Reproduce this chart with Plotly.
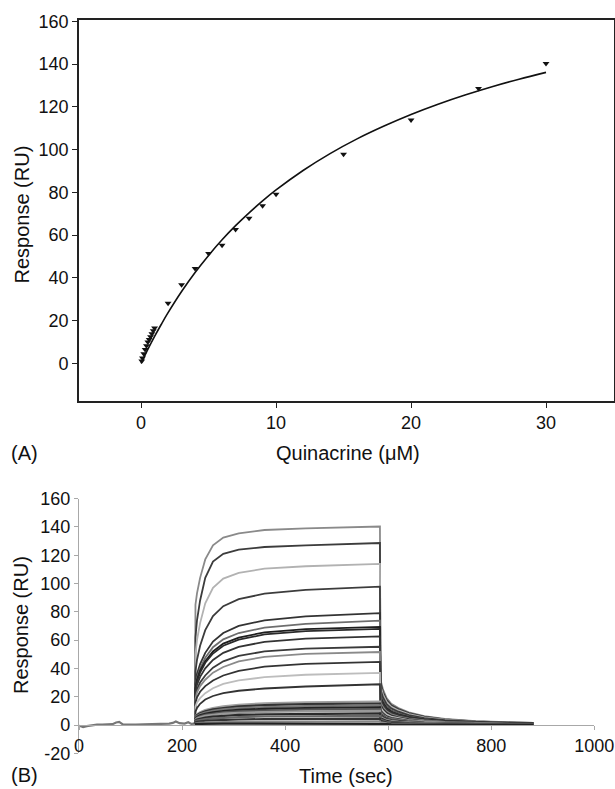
import plotly.graph_objects as go

# ---------------- Panel A data ----------------
QUIN_CONC = [0.05, 0.1, 0.2, 0.3, 0.4, 0.5, 0.6, 0.7, 0.8, 0.9, 1.0,
             2, 3, 4, 5, 6, 7, 8, 9, 10, 15, 20, 25, 30]
QUIN_RESP = [1.1, 2.5, 4.5, 6.5, 8.2, 10.0, 11.2, 12.4, 13.8, 15.2, 16.6,
             28.1, 36.8, 44.4, 51.4, 55.3, 62.6, 67.9, 73.7, 79.1, 97.8, 113.8, 128.6, 140.3]
FIT_CONC = [0, 0.25, 0.5, 1, 1.5, 2, 3, 4, 5, 6, 7, 8, 9, 10, 12, 14, 16, 18, 20, 22, 24, 26, 28, 30]
FIT_RESP = [0, 3.3, 6.5, 12.6, 18.3, 23.7, 33.6, 42.5, 50.5, 57.8, 64.4, 70.4, 76.0, 81.1,
            90.2, 98.1, 105.0, 111.0, 116.4, 121.2, 125.5, 129.4, 132.9, 136.1]
A_XTICKS = [0, 10, 20, 30]
A_YTICKS = [0, 20, 40, 60, 80, 100, 120, 140, 160]

# ---------------- Panel B data ----------------
BASE_T = [0, 8, 15, 25, 35, 45, 55, 65, 72, 78, 85, 95, 110, 125, 140, 155, 165,
          175, 182, 188, 195, 205, 212, 218, 225]
BASE_R = [-0.5, -1.5, -0.8, 0.0, 0.3, 0.2, 0.5, 0.6, 1.8, 2.2, 0.4, 0.2, 0.3, 0.5, 0.6,
          0.8, 1.2, 1.0, 1.5, 2.5, 1.3, 1.0, 2.0, 0.8, 1.0]

SENS_T = [225, 226, 229, 235, 245, 260, 280, 310, 360, 440, 584,
          585, 590, 597, 606, 620, 640, 670, 710, 770, 830, 882]

S140 = [1.0, 85, 93, 104, 117, 127, 132.5, 135.5, 137.8, 139, 140.3, 32, 25, 19, 15, 12, 9, 6.3, 4.3, 2.8, 2.0, 1.5]
S129 = [1.0, 62, 74, 88, 104, 115.5, 121, 124, 125.8, 127, 128.6, 29.8, 23.3, 17.7, 14.0, 11.2, 8.4, 5.9, 4.0, 2.6, 1.9, 1.4]
S114 = [1.0, 50, 60, 72, 86, 97, 103.5, 107.5, 110.5, 112.2, 113.8, 27.5, 21.5, 16.3, 12.9, 10.3, 7.7, 5.4, 3.7, 2.4, 1.7, 1.3]
S98 = [1.0, 38, 46, 56, 67, 77, 84, 89, 92.8, 95.5, 97.8, 25.0, 19.5, 14.8, 11.7, 9.4, 7.0, 4.9, 3.4, 2.2, 1.6, 1.2]
S79 = [1.0, 29, 36, 43, 51, 59, 65, 70, 74, 76.8, 79.1, 21.8, 17.0, 12.9, 10.2, 8.2, 6.1, 4.3, 2.9, 1.9, 1.4, 1.0]
S74 = [1.0, 27, 33, 40, 47.5, 55, 60.5, 65, 68.8, 71.5, 73.7, 20.8, 16.3, 12.4, 9.8, 7.8, 5.9, 4.1, 2.8, 1.8, 1.3, 1.0]
S69 = [1.0, 26, 32, 38.5, 45, 52, 57.5, 61.8, 65.5, 67.8, 69.3, 19.8, 15.5, 11.8, 9.3, 7.4, 5.6, 3.9, 2.7, 1.7, 1.2, 0.9]
S68 = [1.0, 25, 31, 37, 44, 50.5, 56, 60.3, 64, 66.3, 67.9, 19.5, 15.3, 11.6, 9.2, 7.3, 5.5, 3.8, 2.6, 1.7, 1.2, 0.9]
S63 = [1.0, 23, 28.5, 34, 40, 46, 51, 55.2, 58.8, 61, 62.6, 18.6, 14.5, 11.0, 8.7, 7.0, 5.2, 3.7, 2.5, 1.6, 1.2, 0.9]
S55 = [1.0, 20, 25, 30, 35, 40.5, 45, 48.8, 52, 54, 55.3, 17.0, 13.3, 10.1, 8.0, 6.4, 4.8, 3.3, 2.3, 1.5, 1.1, 0.8]
S52 = [1.0, 18.5, 23, 27.5, 32, 37, 41, 45, 48.2, 50.2, 51.6, 16.0, 12.5, 9.5, 7.5, 6.0, 4.5, 3.2, 2.2, 1.4, 1.0, 0.8]
S45 = [1.0, 16, 19.5, 23.5, 27.5, 31.5, 35, 38.3, 41.2, 43.2, 44.6, 14.4, 11.3, 8.6, 6.8, 5.4, 4.1, 2.8, 1.9, 1.3, 0.9, 0.7]
S37 = [1.0, 13, 16, 19, 22.5, 26, 29, 31.5, 33.8, 35.5, 36.8, 12.5, 9.8, 7.4, 5.9, 4.7, 3.5, 2.5, 1.7, 1.1, 0.8, 0.6]
S29 = [1.0, 9.5, 12, 15, 18, 20.5, 22.5, 24.2, 25.8, 27.2, 28.8, 10.6, 8.3, 6.3, 5.0, 4.0, 3.0, 2.1, 1.4, 0.9, 0.7, 0.5]
L17 = [1.0, 6, 7.5, 9, 10.5, 12, 13.2, 14.3, 15.3, 16, 16.6, 9.0, 7.0, 5.3, 4.2, 3.4, 2.5, 1.8, 1.2, 0.8, 0.6, 0.4]
L15 = [1.0, 5.5, 7, 8.3, 9.7, 11, 12, 13.1, 14, 14.7, 15.2, 8.3, 6.5, 4.9, 3.9, 3.1, 2.3, 1.6, 1.1, 0.7, 0.5, 0.4]
L14 = [1.0, 5, 6.3, 7.6, 8.8, 10, 11, 11.9, 12.7, 13.3, 13.8, 7.7, 6.0, 4.6, 3.6, 2.9, 2.2, 1.5, 1.0, 0.7, 0.5, 0.4]
L12 = [1.0, 4.5, 5.7, 6.8, 7.9, 9, 9.9, 10.7, 11.4, 12, 12.4, 7.0, 5.5, 4.2, 3.3, 2.6, 2.0, 1.4, 0.9, 0.6, 0.4, 0.3]
L11 = [1.0, 4, 5.1, 6.1, 7.1, 8.1, 8.9, 9.7, 10.3, 10.8, 11.2, 6.4, 5.0, 3.8, 3.0, 2.4, 1.8, 1.3, 0.9, 0.6, 0.4, 0.3]
L10 = [1.0, 3.6, 4.6, 5.5, 6.4, 7.2, 8, 8.6, 9.2, 9.6, 10, 5.8, 4.5, 3.4, 2.7, 2.2, 1.6, 1.1, 0.8, 0.5, 0.4, 0.3]
L8 = [1.0, 3, 3.8, 4.5, 5.2, 5.9, 6.5, 7.1, 7.5, 7.9, 8.2, 4.8, 3.8, 2.9, 2.3, 1.8, 1.4, 0.9, 0.6, 0.4, 0.3, 0.2]
L6 = [1.0, 2.5, 3.1, 3.6, 4.2, 4.7, 5.2, 5.6, 6, 6.3, 6.5, 3.8, 3.0, 2.3, 1.8, 1.4, 1.1, 0.8, 0.5, 0.3, 0.2, 0.2]
L4 = [1.0, 1.8, 2.2, 2.6, 3, 3.3, 3.6, 3.9, 4.2, 4.4, 4.5, 2.9, 2.3, 1.7, 1.4, 1.1, 0.8, 0.6, 0.4, 0.3, 0.2, 0.1]
L2 = [1.0, 1.2, 1.4, 1.6, 1.8, 1.9, 2.1, 2.2, 2.3, 2.4, 2.5, 1.9, 1.5, 1.1, 0.9, 0.7, 0.5, 0.4, 0.3, 0.2, 0.1, 0.1]
L1 = [0.8, 0.7, 0.8, 0.8, 0.9, 0.9, 1.0, 1.0, 1.0, 1.1, 1.1, 1.1, 0.9, 0.7, 0.5, 0.4, 0.3, 0.2, 0.2, 0.1, 0.1, 0.1]

SENSORGRAMS = [S140, S129, S114, S98, S79, S74, S69, S68, S63, S55, S52, S45, S37, S29,
               L17, L15, L14, L12, L11, L10, L8, L6, L4, L2, L1]
SENS_COLORS = ["#8a8a8a", "#3c3c3c", "#b2b2b2", "#3c3c3c", "#333333", "#6e6e6e", "#1e1e1e",
               "#2a2a2a", "#333333", "#3a3a3a", "#8a8a8a", "#333333", "#bdbdbd", "#333333",
               "#a0a0a0", "#333333", "#777777", "#222222", "#555555", "#999999", "#2a2a2a",
               "#666666", "#333333", "#888888", "#222222"]
SENS_WIDTHS = [1.8] * 14 + [2.2] * 11
B_XTICKS = [0, 200, 400, 600, 800, 1000]
B_YTICKS = [-20, 0, 20, 40, 60, 80, 100, 120, 140, 160]
B_YTICKTEXT = ["-20", "0", "20", "40", "60", "80", "100", "120", "140", "160"]

# ---------------- Figure ----------------
W, H = 615, 789
FONT = "Liberation Sans, Arial, Helvetica, sans-serif"

def px_x(p):
    return p / W

def px_y(p):
    return 1 - p / H

fig = go.Figure()

fig.add_trace(go.Scatter(x=FIT_CONC, y=FIT_RESP, mode="lines",
                         line=dict(color="#111111", width=1.6, shape="spline"),
                         xaxis="x", yaxis="y", showlegend=False, hoverinfo="skip"))
fig.add_trace(go.Scatter(x=QUIN_CONC, y=QUIN_RESP, mode="markers",
                         marker=dict(symbol="triangle-down", size=6, color="#111111"),
                         xaxis="x", yaxis="y", showlegend=False))

fig.add_trace(go.Scatter(x=BASE_T, y=BASE_R, mode="lines",
                         line=dict(color="#777777", width=2.2),
                         xaxis="x2", yaxis="y2", showlegend=False))
for vals, col, wd in zip(SENSORGRAMS, SENS_COLORS, SENS_WIDTHS):
    fig.add_trace(go.Scatter(x=SENS_T, y=vals, mode="lines",
                             line=dict(color=col, width=wd),
                             xaxis="x2", yaxis="y2", showlegend=False))

# Panel A geometry (pixels)
A_L, A_R, A_T, A_B = 79, 613.5, 20, 401
# Panel B geometry (pixels)
B_L, B_R, B_T, B_B, B_ZERO = 79, 594.3, 498.6, 753.3, 725

tickfont = dict(family=FONT, size=18, color="#111111")

fig.update_layout(
    template="none",
    width=W, height=H,
    margin=dict(l=0, r=0, t=0, b=0, pad=0),
    paper_bgcolor="white", plot_bgcolor="white",
    showlegend=False,
    font=dict(family=FONT, color="#111111"),
    xaxis=dict(domain=[px_x(A_L), px_x(A_R)], range=[-4.6, 35], anchor="y",
               tickvals=A_XTICKS, ticks="outside", ticklen=5, tickwidth=1.3,
               tickcolor="#222222", showline=True, linecolor="#222222", linewidth=1.6,
               mirror=True, showgrid=False, zeroline=False, tickfont=tickfont,
               automargin=False),
    yaxis=dict(domain=[px_y(A_B), px_y(A_T)], range=[-17.6, 160.6], anchor="x",
               tickvals=A_YTICKS, ticks="outside", ticklen=5, tickwidth=1.3,
               tickcolor="#222222", showline=True, linecolor="#222222", linewidth=1.6,
               mirror=True, showgrid=False, zeroline=False, tickfont=tickfont,
               automargin=False),
    xaxis2=dict(domain=[px_x(B_L), px_x(B_R)], range=[0, 1000], anchor="free",
                position=px_y(B_ZERO),
                tickvals=B_XTICKS, ticks="outside", ticklen=4, tickwidth=1,
                tickcolor="#a8a8a8", showline=True, linecolor="#a8a8a8", linewidth=1.2,
                showgrid=False, zeroline=False, tickfont=tickfont, automargin=False),
    yaxis2=dict(domain=[px_y(B_B), px_y(B_T)], range=[-20, 160], anchor="x2",
                tickvals=B_YTICKS, ticktext=B_YTICKTEXT, ticks="outside", ticklen=4,
                tickwidth=1, tickcolor="#a8a8a8", showline=True, linecolor="#a8a8a8",
                linewidth=1.2, showgrid=False, zeroline=False, tickfont=tickfont,
                automargin=False),
)

titlefont = dict(family=FONT, size=20, color="#111111")
annos = [
    dict(text="Response (RU)", x=px_x(21), y=px_y((A_T + A_B) / 2 + 4), textangle=-90),
    dict(text="Quinacrine (μM)", x=px_x(348), y=px_y(453)),
    dict(text="(A)", x=px_x(24), y=px_y(453)),
    dict(text="Response (RU)", x=px_x(21), y=px_y(625), textangle=-90),
    dict(text="Time (sec)", x=px_x(346), y=px_y(776)),
    dict(text="(B)", x=px_x(24), y=px_y(775)),
]
for a in annos:
    fig.add_annotation(xref="paper", yref="paper", showarrow=False,
                       xanchor="center", yanchor="middle", font=titlefont, **a)

fig.write_html(
    "out.html",
    config={"displayModeBar": False},
    post_script="document.body.style.margin='0';document.body.style.overflow='hidden';",
)
